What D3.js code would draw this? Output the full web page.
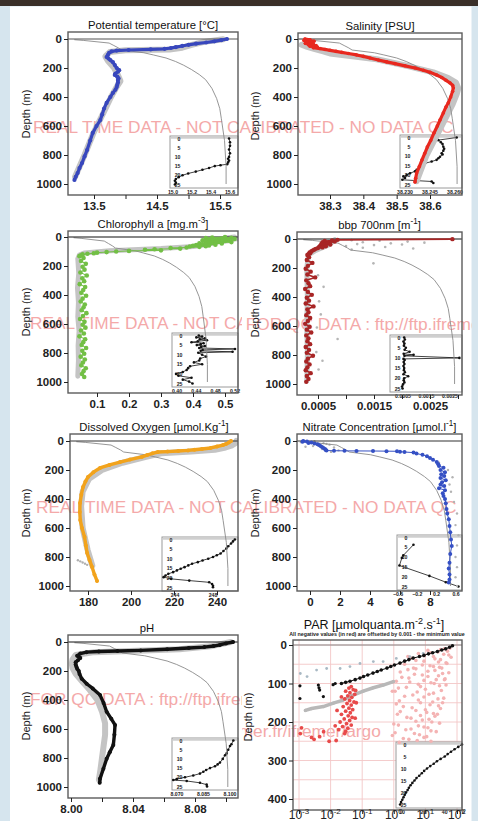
<!DOCTYPE html>
<html>
<head>
<meta charset="utf-8">
<script src="https://cdn.jsdelivr.net/npm/d3@7"></script>
<style>
  body { margin: 0; background: #d6e5ee; }
  svg { display: block; font-family: "Liberation Sans", Arial, Helvetica, sans-serif; }
</style>
</head>
<body>
<script>
'use strict';

// ---------- data ----------

// thin grey reference curve, shared shape (fraction of panel width) vs depth
const refDepth = [5, 10, 28, 45, 62, 76, 95, 110, 131, 155, 180, 210, 245, 280, 340, 410, 480, 550, 700, 880, 1000];
const refFrac  = [0.04, 0.10, 0.26, 0.29, 0.32, 0.34, 0.48, 0.54, 0.62, 0.68, 0.73, 0.78, 0.83, 0.87, 0.91, 0.94, 0.96, 0.97, 0.99, 1.0, 1.0];

// potential temperature
const tempDepth = [0, 8, 16, 24, 32, 40, 48, 56, 62, 68, 72, 76, 80, 86, 95, 110, 124, 135, 145, 160, 180, 200, 215, 226, 238, 248, 260, 272, 283, 300, 315, 331, 350, 372, 400, 441, 480, 520, 559, 600, 648, 700, 766, 810, 855, 890, 924, 950, 972];
const tempVal   = [15.61, 15.52, 15.41, 15.28, 15.12, 15.00, 14.90, 14.80, 14.72, 14.62, 14.40, 14.05, 13.86, 13.78, 13.74, 13.72, 13.70, 13.73, 13.76, 13.80, 13.83, 13.86, 13.90, 13.88, 13.84, 13.83, 13.87, 13.89, 13.88, 13.88, 13.87, 13.86, 13.84, 13.80, 13.76, 13.70, 13.66, 13.63, 13.60, 13.54, 13.48, 13.44, 13.39, 13.35, 13.31, 13.27, 13.24, 13.21, 13.19];
const tempShadowDepth = [2, 20, 40, 60, 72, 78, 90, 120, 150, 200, 250, 290, 330, 400, 500, 650, 800, 950];
const tempShadowVal   = [15.55, 15.25, 15.05, 14.9, 14.7, 14.0, 13.75, 13.68, 13.72, 13.82, 13.88, 13.92, 13.86, 13.77, 13.66, 13.49, 13.35, 13.2];
const tempInsetDepth = [0, 2, 4, 6, 8, 10, 11, 12, 13, 14, 14.5, 15, 16, 17, 18, 19, 20, 21, 22, 23, 24, 25];
const tempInsetVal   = [15.59, 15.60, 15.60, 15.59, 15.60, 15.59, 15.58, 15.59, 15.58, 15.57, 15.50, 15.44, 15.38, 15.31, 15.24, 15.16, 15.10, 15.06, 15.03, 15.02, 15.03, 15.02];

// salinity
const salDepth = [0, 5, 10, 15, 20, 25, 30, 35, 40, 45, 50, 55, 60, 66, 72, 78, 85, 92, 100, 110, 120, 131, 145, 158, 170, 185, 200, 215, 230, 248, 265, 285, 303, 320, 338, 360, 400, 440, 469, 510, 559, 600, 648, 700, 745, 790, 834, 880, 924, 960, 986];
const salVal   = [38.225, 38.240, 38.222, 38.252, 38.230, 38.245, 38.226, 38.250, 38.235, 38.258, 38.240, 38.262, 38.250, 38.270, 38.285, 38.300, 38.318, 38.335, 38.355, 38.380, 38.400, 38.420, 38.445, 38.470, 38.495, 38.525, 38.555, 38.580, 38.600, 38.620, 38.635, 38.648, 38.660, 38.668, 38.670, 38.668, 38.662, 38.655, 38.648, 38.640, 38.630, 38.622, 38.612, 38.602, 38.592, 38.584, 38.576, 38.568, 38.560, 38.557, 38.555];
const salShadowDepth = [40, 55, 70, 85, 100, 140, 190, 230, 270, 300, 340, 380, 450, 600, 800, 980];
const salShadowVal   = [38.215, 38.232, 38.255, 38.28, 38.30, 38.44, 38.54, 38.61, 38.655, 38.678, 38.685, 38.680, 38.668, 38.635, 38.590, 38.560];
const salInsetDepth = [0, 1.4, 2.5, 3.5, 4.9, 6, 7, 8.4, 9, 10.2, 11, 11.9, 12.8, 13.7, 15, 16, 17.2, 18, 19, 20, 20.7, 21.5, 22.5, 23.4, 24.2];
const salInsetVal   = [38.2610, 38.2500, 38.2515, 38.2525, 38.2530, 38.2535, 38.2530, 38.2520, 38.2525, 38.2510, 38.2500, 38.2490, 38.2460, 38.2420, 38.2410, 38.2400, 38.2370, 38.2360, 38.2330, 38.2310, 38.2290, 38.2300, 38.2284, 38.2460, 38.2470];

// chlorophyll a
const chlDepth = [1, 3, 5, 8, 10, 13, 15, 18, 20, 23, 25, 28, 30, 33, 35, 38, 40, 43, 45, 48, 50, 53, 55, 58, 60, 63, 65, 68,
  72, 76, 80, 84, 88, 92, 96, 100, 104, 108, 112, 116, 120, 126, 132,
  145, 165, 185, 205, 225, 245, 265, 285, 305, 325, 345, 365, 385, 405, 425, 445, 465, 485, 505, 525, 545, 565, 585, 605, 625, 645, 665, 685, 705, 725, 745, 765, 785, 805, 825, 845, 865, 885, 905, 925, 945, 965];
const chlVal = [0.50, 0.46, 0.52, 0.44, 0.49, 0.53, 0.45, 0.48, 0.51, 0.43, 0.47, 0.50, 0.44, 0.48, 0.52, 0.45, 0.47, 0.42, 0.49, 0.45, 0.43, 0.47, 0.41, 0.45, 0.40, 0.44, 0.39, 0.42,
  0.38, 0.33, 0.36, 0.28, 0.25, 0.30, 0.20, 0.16, 0.13, 0.10, 0.09, 0.07, 0.055, 0.05, 0.045,
  0.058, 0.050, 0.065, 0.055, 0.061, 0.048, 0.068, 0.054, 0.060, 0.046, 0.063, 0.057, 0.051, 0.066, 0.055, 0.049, 0.062, 0.058, 0.052, 0.067, 0.056, 0.047, 0.061, 0.055, 0.064, 0.050, 0.059, 0.045, 0.063, 0.057, 0.052, 0.066, 0.054, 0.060, 0.049, 0.062, 0.056, 0.051, 0.065, 0.058, 0.053, 0.060];
const chlShadowDepth = [0, 6, 12, 18, 25, 35, 50, 65, 80, 95, 110, 125, 150, 250, 350, 450, 550, 650, 750, 850, 960];
const chlShadowVal   = [0.53, 0.50, 0.54, 0.49, 0.52, 0.47, 0.45, 0.40, 0.30, 0.14, 0.06, 0.045, 0.040, 0.043, 0.039, 0.042, 0.040, 0.044, 0.041, 0.042, 0.040];
const chlInsetDepth = [0, 0.5, 1, 1.5, 2, 2.5, 3, 3.5, 4, 4.5, 5, 5.5, 6, 6.5, 7, 7.5, 8, 8.5, 9, 10, 11, 12, 13, 14, 15, 16, 17, 18, 19, 20, 21, 22, 23, 24, 25];
const chlInsetVal   = [0.445, 0.452, 0.440, 0.458, 0.447, 0.462, 0.443, 0.430, 0.455, 0.449, 0.441, 0.458, 0.450, 0.446, 0.520, 0.453, 0.449, 0.515, 0.444, 0.452, 0.460, 0.448, 0.446, 0.435, 0.452, 0.427, 0.423, 0.420, 0.412, 0.398, 0.403, 0.430, 0.412, 0.425, 0.432];

// bbp 700nm
const bbpDepth = [1, 6, 10, 14, 18, 22, 26, 30, 34, 38, 42, 46, 50, 54, 58, 62, 68, 74, 80, 86, 92, 98, 104, 110,
  125, 145, 165, 185, 205, 225, 245, 265, 285, 305, 325, 345, 365, 385, 405, 425, 445, 465, 485, 505, 525, 545, 565, 585, 605, 625, 645, 665, 685, 705, 725, 745, 765, 785, 805, 825, 845, 865, 885, 905, 925, 945, 965, 985];
const bbpVal = [0.0029, 0.00085, 0.00075, 0.00062, 0.00080, 0.00058, 0.00070, 0.00066, 0.00056, 0.00072, 0.00060, 0.00054, 0.00064, 0.00052, 0.00058, 0.00050, 0.00046, 0.00043, 0.00040, 0.00038, 0.00035, 0.00036, 0.00033, 0.00031,
  0.00034, 0.00030, 0.00040, 0.00032, 0.00028, 0.00037, 0.00031, 0.00045, 0.00029, 0.00033, 0.00036, 0.00027, 0.00032, 0.00039, 0.00030, 0.00034, 0.00028, 0.00042, 0.00031, 0.00033, 0.00029, 0.00036, 0.00032, 0.00027, 0.00035, 0.00030, 0.00038, 0.00029, 0.00033, 0.00031, 0.00036, 0.00028, 0.00034, 0.00030, 0.00041, 0.00032, 0.00029, 0.00035, 0.00031, 0.00028, 0.00037, 0.00030, 0.00033, 0.00029];
const bbpShadowDepth = [5, 40, 80, 110, 200, 400, 600, 800, 980];
const bbpShadowVal   = [0.0008, 0.0007, 0.00045, 0.00033, 0.00030, 0.00031, 0.00030, 0.00031, 0.00030];
const bbpGrayDepth = [8, 12, 18, 22, 25, 30, 35, 38, 42, 48, 55, 60, 65, 72, 168, 330, 520, 690, 840, 250, 430, 610, 780, 900];
const bbpGrayVal   = [0.0011, 0.0016, 0.0021, 0.0013, 0.0024, 0.0018, 0.0012, 0.0020, 0.0015, 0.0010, 0.0017, 0.0013, 0.0022, 0.0011, 0.00149, 0.00060, 0.00055, 0.00085, 0.00058, 0.00050, 0.00052, 0.00048, 0.00047, 0.00051];
const bbpInsetDepth = [0, 1, 2, 3, 4, 5, 6, 7, 8, 8.5, 9, 10, 10.5, 11, 12, 13, 14, 15, 16, 17, 18, 19, 20, 21, 22, 23, 24, 25];
const bbpInsetVal   = [0.00055, 0.00058, 0.00052, 0.00056, 0.00054, 0.00062, 0.00057, 0.00078, 0.00053, 0.00095, 0.00056, 0.00290, 0.00052, 0.00057, 0.00053, 0.00056, 0.00052, 0.00055, 0.00054, 0.00058, 0.00052, 0.00072, 0.00055, 0.00053, 0.00056, 0.00050, 0.00046, 0.00048];

// dissolved oxygen
const oxyDepth = [0, 10, 20, 28, 38, 48, 55, 60, 65, 69, 73, 76, 85, 97, 110, 128, 145, 165, 186, 215, 248, 280, 317, 370, 428, 490, 545, 600, 662, 720, 772, 820, 869, 920, 965];
const oxyVal   = [246.5, 245.5, 244.2, 242.8, 240.0, 237.0, 233.0, 229.5, 226.5, 222.0, 217.0, 212.5, 210.0, 207.5, 205.0, 199.5, 194.9, 190.0, 185.6, 182.5, 180.0, 178.8, 177.7, 176.9, 176.3, 176.2, 176.4, 177.2, 178.4, 179.0, 179.6, 180.7, 181.9, 183.0, 184.2];
const oxyShadowDepth = [0, 15, 30, 45, 60, 72, 85, 110, 150, 200, 260, 350, 450, 600, 750, 860];
const oxyShadowVal   = [249, 248.5, 247, 244, 239, 228, 214, 207, 196, 186.5, 180.5, 177.5, 176.8, 177.5, 179.8, 182];
const oxyGrayDepth = [822, 830, 838, 846, 854];
const oxyGrayVal   = [175.3, 176.4, 177.5, 178.6, 179.6];
const oxyInsetDepth = [0, 1, 2.1, 3.5, 4.7, 6, 7.3, 8.2, 9.1, 10, 10.9, 11.8, 12.6, 13.5, 14.4, 15.2, 16.1, 17, 17.9, 18.8, 19.6, 20.5, 21.4, 22.3, 23.2, 24.1, 24.9];
const oxyInsetVal   = [250.3, 250.1, 249.9, 249.6, 249.4, 249.1, 248.8, 248.4, 248.0, 247.5, 246.9, 246.4, 245.8, 245.4, 245.0, 244.6, 244.2, 243.8, 243.3, 243.0, 242.8, 243.6, 245.5, 247.6, 247.9, 248.0, 248.0];

// nitrate
const nitDepth = [0, 3, 6, 10, 14, 17, 22, 28, 35, 41, 48, 55, 62, 66, 67, 68, 68.5, 69, 70, 71, 74, 76, 80, 87, 95, 105, 117, 130, 145, 160, 172, 185, 200, 215, 230, 241, 255, 270, 285, 300, 310, 325, 340, 360, 379, 400, 430, 469, 500, 540, 586, 630, 680, 724, 780, 839, 880, 920, 955, 975];
const nitVal   = [-0.45, -0.2, -0.5, 0.1, -0.1, 0.3, 0.5, 0.6, 0.7, 0.8, 0.9, 1.0, 1.05, 1.1, 1.6, 2.3, 3.1, 4.2, 5.1, 5.8, 6.0, 6.3, 6.9, 7.1, 7.5, 7.8, 8.0, 8.2, 8.45, 8.55, 8.6, 8.9, 8.7, 9.0, 8.75, 8.95, 8.7, 9.05, 8.8, 8.7, 8.95, 8.6, 9.0, 8.85, 8.9, 9.0, 9.05, 9.1, 9.15, 9.25, 9.3, 9.35, 9.4, 9.45, 9.35, 9.3, 9.25, 9.3, 9.3, 9.25];
const nitGrayDepth = [2, 8, 15, 25, 35, 45, 55, 65, 75, 40, 20, 150, 200, 250, 300, 350, 420, 500, 580, 650, 720, 800, 870, 940, 1000];
const nitGrayVal   = [0.3, -0.6, 0.9, 1.3, 0.2, 1.6, 0.8, 1.9, 1.4, -0.3, 1.1, 8.6, 9.2, 9.5, 9.3, 9.4, 9.6, 9.8, 9.7, 9.9, 9.8, 9.7, 9.8, 9.7, 9.8];
const nitInsetDepth = [3.7, 9.1, 10.4, 14.3, 19.6, 22.8, 25];
const nitInsetVal   = [-0.28, -0.49, -0.52, -0.57, 0.05, 0.39, 0.65];

// pH
const phDepth = [0, 10, 20, 28, 35, 41, 50, 58, 62, 66, 70, 80, 95, 110, 125, 140, 155, 170, 185, 200, 220, 253, 288, 320, 366, 420, 481, 530, 572, 640, 710, 760, 805, 874, 943, 970];
const phVal   = [8.1045, 8.100, 8.096, 8.092, 8.086, 8.076, 8.062, 8.045, 8.030, 8.018, 8.010, 8.006, 8.004, 8.006, 8.0045, 8.003, 8.003, 8.0035, 8.004, 8.005, 8.0055, 8.0069, 8.0101, 8.014, 8.0187, 8.021, 8.023, 8.026, 8.0284, 8.028, 8.0273, 8.025, 8.023, 8.0209, 8.0187, 8.0185];
const phShadowDepth = [0, 30, 50, 70, 90, 120, 150, 180, 220, 270, 330, 400, 480, 560, 640, 720, 800, 880, 950];
const phShadowVal   = [8.103, 8.090, 8.070, 8.015, 8.003, 8.001, 8.0005, 8.001, 8.003, 8.007, 8.012, 8.017, 8.020, 8.022, 8.022, 8.021, 8.020, 8.019, 8.018];
const phInsetDepth = [0, 2, 3, 5, 7, 8, 10, 12, 13, 14, 15, 16, 17, 18, 19, 20, 21, 21.5, 22, 23, 24, 25];
const phInsetVal   = [8.1019, 8.1008, 8.1000, 8.0990, 8.0981, 8.0972, 8.0959, 8.0943, 8.0930, 8.0915, 8.0887, 8.0865, 8.0849, 8.0830, 8.0792, 8.0745, 8.0698, 8.0679, 8.0755, 8.0830, 8.0868, 8.0870];

// PAR
const parDepth = [2, 6, 10, 13, 17, 20, 23, 27, 30, 34, 38, 42, 47, 52, 56, 60, 65, 69, 73, 78, 82, 86, 90, 94, 97, 100];
const parVal   = [72, 58, 44, 33, 24, 17, 12.5, 9, 6.5, 4.1, 3.0, 2.2, 1.57, 1.05, 0.80, 0.61, 0.40, 0.30, 0.22, 0.15, 0.11, 0.085, 0.060, 0.041, 0.030, 0.022];
const parBlackDepth = [106, 139, 104, 111, 117, 134, 100, 103];
const parBlackVal   = [0.00107, 0.00107, 0.0041, 0.0043, 0.0045, 0.0059, 0.014, 0.012];
const parGray1Depth = [74, 82, 65, 61, 61, 56, 48, 43, 43, 35, 30, 22];
const parGray1Val   = [0.0011, 0.0018, 0.0036, 0.0075, 0.020, 0.041, 0.085, 0.225, 0.46, 1.2, 3.2, 8.5];
const parGray2Depth = [170, 165, 160, 151, 143, 130, 120, 111, 104, 95];
const parGray2Val   = [0.0016, 0.0025, 0.0059, 0.0122, 0.025, 0.052, 0.108, 0.225, 0.46, 0.97];
const parRedDepth = [108, 112, 116, 120, 124, 128, 132, 136, 140, 144, 148, 152, 156, 160, 164, 168, 172, 176, 180, 184, 188, 192, 196, 200, 204, 208, 212, 216, 220, 224, 118, 135, 150, 170, 190, 210, 230, 215, 230, 240, 245, 238, 225, 250, 248];
const parRedVal   = [0.045, 0.038, 0.052, 0.030, 0.041, 0.058, 0.035, 0.047, 0.028, 0.040, 0.055, 0.033, 0.045, 0.025, 0.038, 0.050, 0.030, 0.042, 0.022, 0.036, 0.048, 0.027, 0.040, 0.020, 0.032, 0.045, 0.024, 0.035, 0.018, 0.030, 0.062, 0.022, 0.065, 0.016, 0.060, 0.014, 0.028, 0.0012, 0.0011, 0.0025, 0.0030, 0.0045, 0.0060, 0.0090, 0.015];
const parPinkDepth = [10, 14, 18, 22, 26, 30, 34, 38, 42, 46, 50, 54, 58, 62, 66, 70, 74, 78, 82, 86, 90, 94, 98, 102, 106, 110, 115, 120, 125, 130, 135, 140, 145, 150, 155, 160, 165, 170, 175, 180, 185, 190, 195, 200, 205, 210, 215, 220, 225, 230, 235, 240, 245, 250, 30, 60, 90, 120, 150, 180,
  8, 12, 16, 20, 24, 28, 32, 36, 40, 44, 48, 52, 56, 60, 64, 68, 72, 76, 80, 84, 88, 92, 96, 100, 104, 108, 112, 118, 122, 128, 133, 138, 143, 148, 153, 158, 163, 168, 173, 178, 183, 188, 193, 198, 203, 208, 213, 218, 223, 228, 233, 238, 243, 248, 253];
const parPinkVal   = [40, 12, 25, 6, 55, 18, 3.5, 30, 9, 45, 2.2, 14, 28, 5, 20, 1.6, 35, 8, 12, 3, 22, 1.2, 15, 6, 28, 2.5, 10, 1.1, 18, 4, 9, 25, 1.5, 7, 14, 2, 30, 5, 11, 1.3, 20, 3.5, 8, 16, 1.0, 6, 12, 2.4, 22, 4.5, 0.9, 9, 3, 15, 2.8, 4.2, 40, 0.9, 35, 24,
  60, 30, 50, 15, 38, 9, 65, 20, 5, 26, 48, 8, 18, 33, 2.8, 12, 55, 4.5, 26, 1.8, 42, 9, 3.2, 19, 45, 7, 1.4, 32, 5.5, 13, 2.2, 38, 6, 17, 1.2, 26, 3.8, 10, 1.6, 18, 7, 2.6, 13, 5, 28, 1.4, 9, 3.5, 15, 1.1, 6.5, 11, 2, 5.5, 1.5];
const parInsetDepth = [0, 1, 2, 3, 4, 5, 6, 7, 8, 9, 10, 11, 12, 13, 14, 15, 16, 17, 18, 19, 20, 21, 22, 23, 24, 25];
const parInsetVal   = [70, 62, 55, 49, 44, 40, 35, 31, 28, 25, 22.5, 20.5, 19, 17.5, 16, 15, 14, 13.2, 12.5, 12, 11.4, 10.9, 10.5, 10.1, 9.7, 9.4];

// watermark lines
const wmA = 'REAL TIME DATA - NOT CALIBRATED - NO DATA QC';
const wmB = 'NO DATA QC FOR QC DATA : ftp://ftp.ifremer.fr/ifremer/argo';
const wmC = 'FOR QC DATA : ftp://ftp.ifremer.fr/ifremer/argo';
const wmD = 'ftp://ftp.ifremer.fr/ifremer/argo';

// ---------- drawing ----------
const W = 478, H = 821;
const svg = d3.select('body').append('svg').attr('width', W).attr('height', H);
const defs = svg.append('defs');

svg.append('rect').attr('width', W).attr('height', H).attr('fill', '#d6e5ee');
svg.append('rect').attr('width', W).attr('height', 6).attr('fill', '#3a2f29');
svg.append('rect').attr('x', 10).attr('y', 6.5).attr('width', 461.5).attr('height', H - 6.5).attr('fill', '#fff');

defs.append('clipPath').attr('id', 'colL').append('rect').attr('x', 10).attr('y', 0).attr('width', 232).attr('height', H);
defs.append('clipPath').attr('id', 'colR').append('rect').attr('x', 242).attr('y', 0).attr('width', 229.5).attr('height', H);

// watermark text (under everything)
const wm = [
  {c: 'colL', x: 33, y: 133, t: wmA}, {c: 'colR', x: 33, y: 133, t: wmA},
  {c: 'colL', x: 30, y: 329, t: wmA}, {c: 'colR', x: 137, y: 330, t: wmB},
  {c: 'colL', x: 36, y: 513, t: wmA}, {c: 'colR', x: 36, y: 513, t: wmA},
  {c: 'colL', x: 30, y: 705, t: wmC}, {c: 'colR', x: 157, y: 737, t: wmD}
];
wm.forEach(w => {
  svg.append('text').attr('clip-path', `url(#${w.c})`)
    .attr('x', w.x).attr('y', w.y)
    .attr('font-size', 17.3).attr('fill', '#f4a9a9')
    .text(w.t);
});

function drawSeries(sel, x, y, s) {
  const pts = s.d.map((d, i) => [x(s.v[i]), y(d)]);
  if (s.w) {
    sel.append('path').attr('d', d3.line()(pts))
      .attr('fill', 'none').attr('stroke', s.color).attr('stroke-width', s.w)
      .attr('stroke-linejoin', 'round').attr('stroke-linecap', 'round');
  }
  if (s.r) {
    sel.append('g').selectAll('circle').data(pts).join('circle')
      .attr('cx', p => p[0]).attr('cy', p => p[1]).attr('r', s.r).attr('fill', s.color);
  }
}

function drawTitle(parts, cx, by, size, weight) {
  const t = svg.append('text').attr('x', cx).attr('y', by).attr('text-anchor', 'middle')
    .attr('font-size', size).attr('font-weight', weight || 'normal').attr('fill', '#111');
  let up = false;
  parts.forEach(([s, sup]) => {
    const ts = t.append('tspan').text(s);
    if (sup) ts.attr('font-size', size * 0.72);
    if (sup && !up) { ts.attr('dy', -size * 0.4); up = true; }
    else if (!sup && up) { ts.attr('dy', size * 0.4); up = false; }
  });
}

function drawInset(sel, ins) {
  const f = ins.frame;
  const g = sel.append('g');
  g.append('rect').attr('x', f[0]).attr('y', f[1]).attr('width', f[2] - f[0]).attr('height', f[3] - f[1])
    .attr('fill', '#fff').attr('stroke', '#9a9a9a').attr('stroke-width', 1);
  const ix = (ins.log ? d3.scaleLog() : d3.scaleLinear()).domain(ins.xAt).range(ins.xPx);
  const iy = d3.scaleLinear().domain([0, 25]).range([f[1] + 2.5, f[3] - 3.5]);
  g.append('line').attr('x1', f[0] + 1).attr('x2', f[2] - 1).attr('y1', iy(0) - 1).attr('y2', iy(0) - 1)
    .attr('stroke', '#cfcfcf').attr('stroke-width', 2.5);
  g.selectAll('.iyl').data([0, 5, 10, 15, 20, 25]).join('text')
    .attr('x', f[0] + 10.5).attr('y', d => iy(d) + 2).attr('text-anchor', 'end')
    .attr('font-size', 5.2).attr('font-weight', 'bold').attr('fill', '#222').text(d => d);
  g.selectAll('.ixl').data(ins.ticks).join('text')
    .attr('x', d => ix(d)).attr('y', f[3] + 6).attr('text-anchor', 'middle')
    .attr('font-size', 5.2).attr('font-weight', 'bold').attr('fill', '#222').text(d3.format(ins.fmt));
  drawSeries(g, ix, iy, {d: ins.d, v: ins.v, color: '#111', w: 0.8, r: 1.3});
}

function drawPanel(p) {
  const b = p.box;
  const x = (p.log ? d3.scaleLog() : d3.scaleLinear()).domain(p.xAt).range(p.xPx);
  const y = d3.scaleLinear().domain(p.yAt).range(p.yPx);
  const cid = 'clip-' + p.id;
  defs.append('clipPath').attr('id', cid).append('rect')
    .attr('x', b[0]).attr('y', b[1]).attr('width', b[2] - b[0]).attr('height', b[3] - b[1]);

  const g = svg.append('g');
  const grid = g.append('g').attr('clip-path', `url(#${cid})`);
  if (p.grid) {
    grid.selectAll('.gv').data(p.grid.x).join('line')
      .attr('x1', d => x(d)).attr('x2', d => x(d)).attr('y1', b[1]).attr('y2', b[3])
      .attr('stroke', '#f3c6c6').attr('stroke-width', 0.9);
    grid.selectAll('.gh').data(p.grid.y).join('line')
      .attr('y1', d => y(d)).attr('y2', d => y(d)).attr('x1', b[0]).attr('x2', b[2])
      .attr('stroke', '#f3c6c6').attr('stroke-width', 0.9);
  }
  if (p.inset) drawInset(g, p.inset);

  const plot = g.append('g').attr('clip-path', `url(#${cid})`);
  (p.under || []).forEach(s => drawSeries(plot, x, y, s));
  if (p.ref) {
    const rx = d3.scaleLinear().domain([0, 1]).range([b[0], b[0] + p.ref * (b[2] - b[0])]);
    plot.append('path').attr('d', d3.line()(refDepth.map((d, i) => [rx(refFrac[i]), y(d)])))
      .attr('fill', 'none').attr('stroke', '#8a8a8a').attr('stroke-width', 0.9);
  }
  plot.append('line').attr('x1', b[0]).attr('x2', b[2]).attr('y1', y(0)).attr('y2', y(0))
    .attr('stroke', p.zeroColor || '#333').attr('stroke-width', 1.2);
  (p.over || []).forEach(s => drawSeries(plot, x, y, s));

  g.append('rect').attr('x', b[0]).attr('y', b[1]).attr('width', b[2] - b[0]).attr('height', b[3] - b[1])
    .attr('fill', 'none').attr('stroke', '#5c5c5c').attr('stroke-width', 1.4);

  // y axis
  const ya = g.append('g').attr('transform', `translate(${b[0]},0)`)
    .call(d3.axisLeft(y).tickValues(p.yTicks).tickSize(4).tickPadding(2).tickFormat(d3.format('d')));
  ya.select('.domain').remove();
  ya.attr('font-family', null).attr('font-size', 11.5).attr('font-weight', 'bold').attr('color', '#222');

  // x axis
  const fmt = d3.format(p.fmt || '');
  const xa = g.append('g').attr('transform', `translate(0,${b[3]})`)
    .call(d3.axisBottom(x).tickValues(p.xTicks).tickSize(4).tickPadding(3)
      .tickFormat(v => (p.superLabels ? '' : (p.xLabels.includes(v) ? fmt(v) : ''))));
  xa.select('.domain').remove();
  xa.attr('font-family', null).attr('font-size', 11.5).attr('font-weight', 'bold').attr('color', '#222');
  if (p.superLabels) {
    p.xTicks.forEach(v => {
      const t = g.append('text').attr('x', x(v)).attr('y', b[3] + 9).attr('text-anchor', 'middle')
        .attr('font-size', 12).attr('fill', '#222');
      t.append('tspan').text('10');
      t.append('tspan').attr('dy', -5).attr('font-size', 8).text(Math.round(Math.log10(v)));
    });
  }

  // depth label
  svg.append('text').attr('transform', `translate(${p.depthX},${p.depthY}) rotate(-90)`)
    .attr('text-anchor', 'middle').attr('font-size', 11).attr('fill', '#222').text('Depth (m)');

  drawTitle(p.title, p.titleX || (b[0] + b[2]) / 2, p.titleY || (b[1] - 3.5), p.titleSize || 11.3);
}

const depthTicks = [0, 200, 400, 600, 800, 1000];

const panels = [
  {
    id: 'temp', box: [68, 32, 238, 195], yAt: [0, 1000], yPx: [39, 184], yTicks: depthTicks,
    xAt: [13.5, 15.5], xPx: [94, 220], xTicks: [13.5, 14, 14.5, 15, 15.5], xLabels: [13.5, 14.5, 15.5], fmt: '.1f',
    title: [['Potential temperature [°C]']], depthX: 30, depthY: 114, ref: 0.93, zeroColor: '#555',
    inset: {frame: [170, 136, 238, 188], xAt: [15.0, 15.6], xPx: [173, 230], ticks: [15.0, 15.2, 15.4, 15.6], fmt: '.1f', d: tempInsetDepth, v: tempInsetVal},
    under: [{d: tempShadowDepth, v: tempShadowVal, color: '#c4c4c4', w: 6}],
    over: [{d: tempDepth, v: tempVal, color: '#3847bd', w: 3.2, r: 2.1}]
  },
  {
    id: 'sal', box: [298, 33, 462, 195], yAt: [0, 1000], yPx: [39, 184], yTicks: depthTicks,
    xAt: [38.3, 38.6], xPx: [330, 430], xTicks: [38.3, 38.4, 38.5, 38.6], xLabels: [38.3, 38.4, 38.5, 38.6], fmt: '.1f',
    title: [['Salinity [PSU]']], depthX: 259, depthY: 116, ref: 0.97,
    inset: {frame: [400, 135, 462, 188], xAt: [38.230, 38.260], xPx: [405, 455], ticks: [38.230, 38.245, 38.260], fmt: '.3f', d: salInsetDepth, v: salInsetVal},
    under: [{d: salShadowDepth, v: salShadowVal, color: '#c4c4c4', w: 6}],
    over: [{d: salDepth, v: salVal, color: '#e8281f', w: 3.2, r: 1.8}]
  },
  {
    id: 'chl', box: [68, 231, 238, 393], yAt: [0, 1000], yPx: [237, 382], yTicks: depthTicks,
    xAt: [0.1, 0.5], xPx: [97, 225], xTicks: [0.1, 0.2, 0.3, 0.4, 0.5], xLabels: [0.1, 0.2, 0.3, 0.4, 0.5], fmt: '.1f',
    title: [['Chlorophyll a [mg.m'], ['-3', 1], [']']], depthX: 30, depthY: 312, ref: 0.82, zeroColor: '#111',
    inset: {frame: [172, 333, 238, 387], xAt: [0.40, 0.52], xPx: [177, 235], ticks: [0.40, 0.44, 0.48, 0.52], fmt: '.2f', d: chlInsetDepth, v: chlInsetVal},
    under: [{d: chlShadowDepth, v: chlShadowVal, color: '#c4c4c4', w: 5}],
    over: [{d: chlDepth, v: chlVal, color: '#72bf45', w: 1, r: 2.3}]
  },
  {
    id: 'bbp', box: [297, 232, 462, 395], yAt: [0, 1000], yPx: [239, 384], yTicks: depthTicks,
    xAt: [0.0005, 0.0025], xPx: [318, 430], xTicks: [0.0005, 0.001, 0.0015, 0.002, 0.0025, 0.003], xLabels: [0.0005, 0.0015, 0.0025], fmt: '.4f',
    title: [['bbp 700nm [m'], ['-1', 1], [']']], depthX: 259, depthY: 313, ref: 0.955, zeroColor: '#111',
    inset: {frame: [390, 335, 462, 392], xAt: [0.0005, 0.0025], xPx: [403, 450], ticks: [0.0005, 0.0015, 0.0025], fmt: '.4f', d: bbpInsetDepth, v: bbpInsetVal},
    under: [{d: bbpShadowDepth, v: bbpShadowVal, color: '#c4c4c4', w: 5},
            {d: bbpGrayDepth, v: bbpGrayVal, color: '#b5b5b5', r: 1.3}],
    over: [{d: bbpDepth, v: bbpVal, color: '#a82525', w: 1.6, r: 2.2}]
  },
  {
    id: 'oxy', box: [70, 434, 238, 591], yAt: [0, 1000], yPx: [441, 586], yTicks: depthTicks,
    xAt: [180, 240], xPx: [88, 217], xTicks: [180, 200, 220, 240], xLabels: [180, 200, 220, 240], fmt: 'd',
    title: [['Dissolved Oxygen [µmol.Kg'], ['-1', 1], [']']], depthX: 30, depthY: 513, ref: 0.94,
    inset: {frame: [162, 537, 238, 591], xAt: [244, 248], xPx: [175, 213], ticks: [244, 248], fmt: 'd', d: oxyInsetDepth, v: oxyInsetVal},
    under: [{d: oxyShadowDepth, v: oxyShadowVal, color: '#c4c4c4', w: 6},
            {d: oxyGrayDepth, v: oxyGrayVal, color: '#b0b0b0', r: 1.2}],
    over: [{d: oxyDepth, v: oxyVal, color: '#f2a31c', w: 3.4, r: 2}]
  },
  {
    id: 'nit', box: [297, 434, 462, 591], yAt: [0, 1000], yPx: [441, 586], yTicks: depthTicks,
    xAt: [0, 8], xPx: [310, 430], xTicks: [0, 2, 4, 6, 8], xLabels: [0, 2, 4, 6, 8], fmt: 'd',
    title: [['Nitrate Concentration [µmol.l'], ['-1', 1], [']']], depthX: 259, depthY: 513, ref: 0.93,
    inset: {frame: [397, 535, 462, 590], xAt: [-0.6, 0.6], xPx: [398, 456], ticks: [-0.6, -0.2, 0.2, 0.6], fmt: '.1f', d: nitInsetDepth, v: nitInsetVal},
    under: [{d: nitGrayDepth, v: nitGrayVal, color: '#b3b3b3', r: 1.2}],
    over: [{d: nitDepth, v: nitVal, color: '#3550c4', w: 1, r: 2}]
  },
  {
    id: 'ph', box: [68, 635, 238, 798], yAt: [0, 1000], yPx: [642, 787], yTicks: depthTicks,
    xAt: [8.00, 8.08], xPx: [71, 195], xTicks: [8.00, 8.02, 8.04, 8.06, 8.08, 8.10], xLabels: [8.00, 8.04, 8.08], fmt: '.2f',
    title: [['pH']], titleX: 147, depthX: 30, depthY: 716, ref: 0.94, zeroColor: '#111',
    inset: {frame: [172, 738, 238, 790], xAt: [8.070, 8.100], xPx: [177, 230], ticks: [8.070, 8.085, 8.100], fmt: '.3f', d: phInsetDepth, v: phInsetVal},
    under: [{d: phShadowDepth, v: phShadowVal, color: '#c4c4c4', w: 6}],
    over: [{d: phDepth, v: phVal, color: '#111', w: 3.4, r: 2}]
  },
  {
    id: 'par', box: [293, 640, 462, 810], yAt: [0, 400], yPx: [645, 799], yTicks: [0, 100, 200, 300, 400],
    log: true, xAt: [1e-3, 1e2], xPx: [299, 457], xTicks: [1e-3, 1e-2, 1e-1, 1e0, 1e1, 1e2], superLabels: true,
    grid: {x: [1e-3, 1e-2, 1e-1, 1e0, 1e1, 1e2], y: [0, 50, 100, 150, 200, 250, 300, 350, 400]},
    title: [['PAR [µmolquanta.m'], ['-2', 1], ['.s'], ['-1', 1], [']']], titleSize: 12.5, titleX: 374, titleY: 628.5,
    depthX: 252, depthY: 717, zeroColor: '#888',
    inset: {frame: [396, 742, 462, 808], log: true, xAt: [10, 70], xPx: [402, 462], ticks: [10, 20, 40, 70], fmt: 'd', d: parInsetDepth, v: parInsetVal},
    under: [{d: parPinkDepth, v: parPinkVal, color: '#f4b3b3', r: 1.8},
            {d: parGray1Depth, v: parGray1Val, color: '#a9b9c4', r: 1.4},
            {d: parGray2Depth, v: parGray2Val, color: '#b8b8b8', w: 3.5, r: 1.6}],
    over: [{d: parRedDepth, v: parRedVal, color: '#e84a4a', r: 1.9},
           {d: parBlackDepth, v: parBlackVal, color: '#111', r: 1.6},
           {d: parDepth, v: parVal, color: '#111', w: 1, r: 1.8}]
  }
];

panels.forEach(drawPanel);

// PAR subtitle
svg.append('text').attr('x', 377).attr('y', 636).attr('text-anchor', 'middle')
  .attr('font-size', 5.3).attr('font-weight', 'bold').attr('fill', '#222')
  .text('All negative values (in red) are offsetted by 0.001 - the minimum value');
</script>
</body>
</html>
